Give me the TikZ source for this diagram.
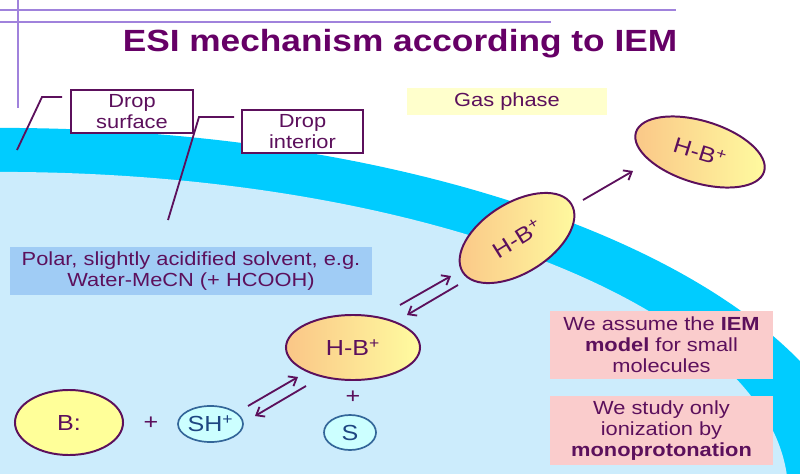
\documentclass[tikz,border=0pt]{standalone}
\usepackage{fontspec}
\setmainfont{Liberation Sans}[FakeStretch=1.15]
\usetikzlibrary{arrows.meta,shapes.geometric,calc}

\definecolor{iempurple}{RGB}{102,0,102}
\definecolor{txtpurple}{RGB}{92,16,92}
\definecolor{lavender}{RGB}{160,130,220}
\definecolor{dropcyan}{RGB}{0,204,255}
\definecolor{droplight}{RGB}{204,236,252}
\definecolor{solvblue}{RGB}{160,204,245}
\definecolor{gasyellow}{RGB}{255,255,204}
\definecolor{notepink}{RGB}{250,204,204}
\definecolor{hborange}{RGB}{250,198,135}
\definecolor{hbyellow}{RGB}{255,252,160}
\definecolor{byellow}{RGB}{255,255,153}
\definecolor{shcyan}{RGB}{204,255,255}
\definecolor{shblue}{RGB}{51,102,153}
\definecolor{shtext}{RGB}{30,70,130}

\begin{document}
\begin{tikzpicture}[
  x=0.025cm, y=-0.025cm,
  every node/.style={text=txtpurple, font=\fontsize{13.5}{15}\selectfont},
  labelbox/.style={rectangle, draw=txtpurple, line width=1.4pt, fill=white, align=center, inner sep=0pt, minimum width=3.05cm, minimum height=1.075cm},
  notebox/.style={rectangle, fill=notepink, align=center, inner sep=0pt, minimum width=5.575cm, minimum height=1.72cm},
  molecule/.style={ellipse, draw=txtpurple, line width=1.4pt, inner sep=0pt, font=\fontsize{15.5}{17}\selectfont},
  hbion/.style={molecule, left color=hborange, right color=hbyellow},
  solvent/.style={ellipse, draw=shblue, line width=1.2pt, fill=shcyan, text=shtext, inner sep=0pt, font=\fontsize{15.5}{17}\selectfont},
  arrow/.style={-{Straight Barb[length=5pt,width=8pt]}, line width=1.3pt, draw=txtpurple},
  leader/.style={line width=1.3pt, draw=txtpurple}
]
\useasboundingbox (0,0) rectangle (800,473);

% Drop: surface band and interior
\begin{scope}
  \clip (0,0) rectangle (800,473);
  \fill[dropcyan] (0,513) ellipse [x radius=21.75cm, y radius=9.625cm];
  \fill[droplight] (0,494) ellipse [x radius=19.7cm, y radius=8.05cm];
\end{scope}

% Slide rules
\draw[lavender, line width=1.4pt] (0,10) -- (676,10);
\draw[lavender, line width=1.4pt] (0,22) -- (551,22);
\draw[lavender, line width=1.4pt] (18,0) -- (18,108);

% Title
\node[font=\fontsize{21.8}{26}\selectfont\bfseries, text=iempurple, anchor=base] (title) at (400,52) {ESI mechanism according to IEM};

% Labels
\node[labelbox] (surf) at (132,111.5) {Drop\\surface};
\node[labelbox, minimum width=3.025cm] (inter) at (302.5,131.5) {Drop\\interior};
\node[fill=gasyellow, minimum width=5cm, minimum height=0.675cm, inner sep=0pt] (gas) at (507,101.5) {Gas phase};
\node[fill=solvblue, align=center, minimum width=9.05cm, minimum height=1.2cm, inner sep=0pt] (solv) at (191,271) {Polar, slightly acidified solvent, e.g.\\Water-MeCN (+ HCOOH)};

\coordinate (surftip) at (17,150);
\coordinate (intertip) at (168,220);
\draw[leader] ($(surf.north west)+(-8,8)$) -- ++(-20,0) -- (surftip);
\draw[leader] ($(inter.north west)+(-7,8)$) -- ++(-35,0) -- (intertip);

% Notes
\node[notebox] (assume) at (661.5,345) {We assume the \textbf{IEM}\\\textbf{model} for small\\molecules};
\node[notebox] (study) at (661.5,430.5) {We study only\\ionization by\\\textbf{monoprotonation}};

% Species
\node[molecule, fill=byellow, minimum width=2.7cm, minimum height=1.625cm] (b) at (69,422.5) {B:};
\node[font=\fontsize{15.5}{17}\selectfont] (plusa) at (151,423) {+};
\node[solvent, minimum width=1.625cm, minimum height=0.9cm] (sh) at (210.5,424) {SH\textsuperscript{+}};
\node[hbion, minimum width=3.35cm, minimum height=1.625cm] (hb) at (353,347.5) {H-B\textsuperscript{+}};
\node[font=\fontsize{15.5}{17}\selectfont] (plusb) at (353,397) {+};
\node[solvent, minimum width=1.3cm, minimum height=0.875cm] (s) at (350,432.5) {S};
\node[hbion, rotate=32, minimum width=3.2cm, minimum height=1.75cm] (hbsurf) at (517,238) {H-B\textsuperscript{+}};
\node[hbion, rotate=-17, minimum width=3.35cm, minimum height=1.55cm] (hbgas) at (700,152) {H-B\textsuperscript{+}};

% Equilibria and desorption
\draw[arrow] ($(sh.center)+(37.5,-18)$) -- ($(hb.center)+(-55,29.5)$);
\draw[arrow] ($(hb.center)+(-47,38.5)$) -- ($(sh.center)+(44.5,-8)$);
\draw[arrow] ($(hb.center)+(47,-42.5)$) -- ($(hbsurf.center)+(-66,38)$);
\draw[arrow] ($(hbsurf.center)+(-59,47)$) -- ($(hb.center)+(54,-32.5)$);
\draw[arrow] ($(hbsurf.center)+(66,-38)$) -- ($(hbgas.center)+(-67,19)$);

\end{tikzpicture}
\end{document}
